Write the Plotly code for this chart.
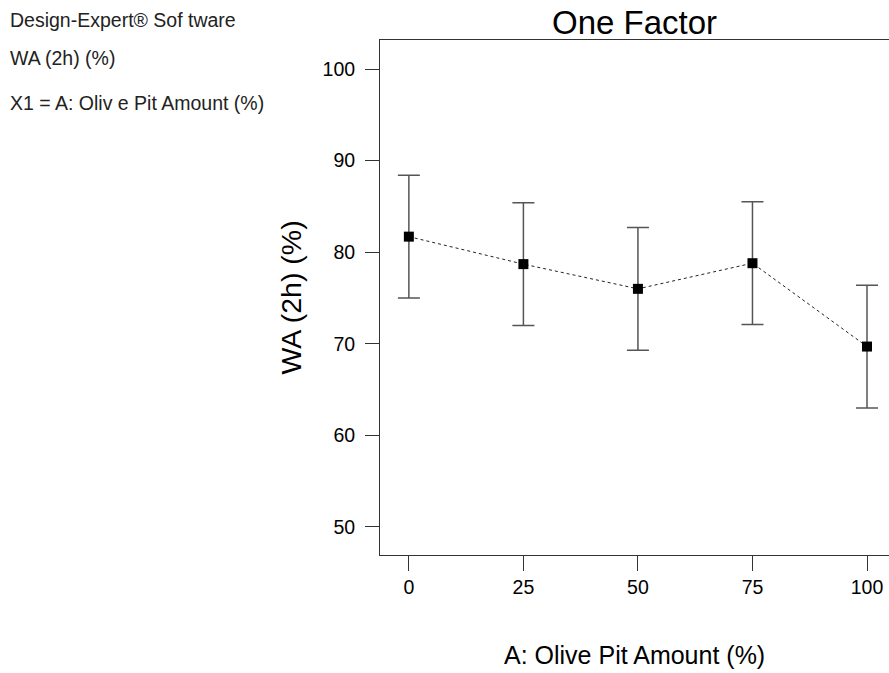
import plotly.graph_objects as go

olive_pit = [0, 25, 50, 75, 100]
wa_2h = [81.7, 78.7, 76.0, 78.8, 69.7]
lsd_half = [6.7, 6.7, 6.7, 6.7, 6.7]
x_ticks = [0, 25, 50, 75, 100]
y_ticks = [50, 60, 70, 80, 90, 100]

info_lines = ["Design-Expert® Sof tware", "WA (2h) (%)", "X1 = A: Oliv e Pit Amount (%)"]

FONT = "Liberation Sans, Arial, sans-serif"

fig = go.Figure()
fig.add_trace(go.Scatter(
    x=olive_pit, y=wa_2h, mode="lines+markers",
    line=dict(color="#222222", width=1, dash="dot"),
    marker=dict(symbol="square", size=10, color="black"),
    error_y=dict(type="data", array=lsd_half, visible=True,
                 color="#555555", thickness=1.5, width=11),
    showlegend=False,
))

fig.update_layout(
    width=889, height=673,
    margin=dict(l=380, r=0, t=40, b=118),
    paper_bgcolor="white", plot_bgcolor="white",
    font=dict(family=FONT, color="black"),
    xaxis=dict(range=[-6.3, 104.8], tickvals=x_ticks, ticks="outside", ticklen=15,
               tickwidth=1, tickcolor="#333333", showline=True, linecolor="#333333",
               linewidth=1, mirror=True, showgrid=False, zeroline=False,
               tickfont=dict(size=19.5, family=FONT)),
    yaxis=dict(range=[46.94, 103.17], tickvals=y_ticks, ticks="outside", ticklen=14,
               tickwidth=1, tickcolor="#333333", showline=True, linecolor="#333333",
               linewidth=1, showgrid=False, zeroline=False, ticklabelstandoff=6,
               tickfont=dict(size=19.5, family=FONT)),
)

annotations = []
for i, t in enumerate(info_lines):
    annotations.append(dict(text=t, xref="paper", yref="paper", x=0, y=1,
                            xshift=-372, yshift=[20, -18, -63][i], xanchor="left",
                            yanchor="middle", showarrow=False,
                            font=dict(size=19.5, family=FONT, color="#222222")))
annotations.append(dict(text="One Factor", xref="paper", yref="paper", x=0.5, y=1,
                        yshift=18, xanchor="center", yanchor="middle", showarrow=False,
                        font=dict(size=33, family=FONT)))
annotations.append(dict(text="A: Olive Pit Amount (%)", xref="paper", yref="paper", x=0.5, y=0,
                        yshift=-100, xanchor="center", yanchor="middle", showarrow=False,
                        font=dict(size=25, family=FONT)))
annotations.append(dict(text="WA (2h) (%)", xref="paper", yref="paper", x=0, y=0.5,
                        xshift=-90, xanchor="center", yanchor="middle", showarrow=False,
                        textangle=-90, font=dict(size=28.5, family=FONT)))
fig.update_layout(annotations=annotations)

fig.write_html("out.html")
